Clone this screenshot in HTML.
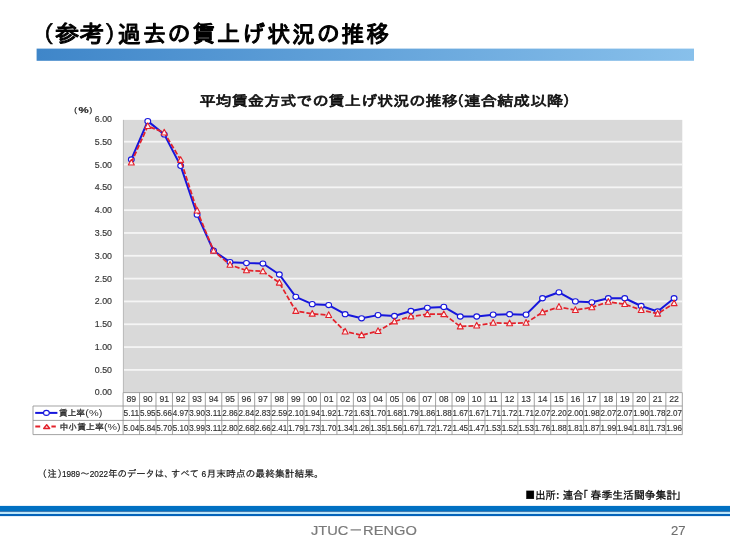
<!DOCTYPE html>
<html lang="ja"><head><meta charset="utf-8"><title>（参考）過去の賃上げ状況の推移</title>
<style>html,body{margin:0;padding:0;background:#fff}svg{display:block}</style></head><body>
<svg width="730" height="548" viewBox="0 0 730 548">
<defs><linearGradient id="hb" x1="0" y1="0" x2="1" y2="0"><stop offset="0" stop-color="#3f86c9"/><stop offset="1" stop-color="#88c0eb"/></linearGradient></defs>
<rect width="730" height="548" fill="#fff"/>
<rect x="36.6" y="48.6" width="657.4" height="12.2" fill="url(#hb)"/>
<text font-family='"IPAGothic","Noto Sans CJK JP",sans-serif' font-size="23" fill="#000" stroke="#000" stroke-width="1.1" stroke-linejoin="round">
<tspan x="31.2" y="41.8" stroke-width="0.7">（</tspan>
<tspan x="55.0" y="41.8" textLength="49.2" lengthAdjust="spacingAndGlyphs">参考</tspan>
<tspan x="104.6" y="41.8" stroke-width="0.7">）</tspan>
<tspan x="117.8" y="41.8" textLength="271.6" lengthAdjust="spacing">過去の賃上げ状況の推移</tspan>
</text>
<text font-family='"IPAGothic","Noto Sans CJK JP",sans-serif' font-size="14.2" fill="#111" stroke="#111" stroke-width="0.7" stroke-linejoin="round">
<tspan x="199.4" y="106.1" textLength="258.4" lengthAdjust="spacingAndGlyphs">平均賃金方式での賃上げ状況の推移</tspan>
<tspan x="449.8" y="106.1">（</tspan>
<tspan x="464.0" y="106.1" textLength="99.2" lengthAdjust="spacingAndGlyphs">連合結成以降</tspan>
<tspan x="563.0" y="106.1">）</tspan>
</text>
<text font-family='"Liberation Sans","IPAGothic","Noto Sans CJK JP",sans-serif' font-size="8" fill="#2a2a2a"><tspan x="74.2" y="112.0" stroke="#2a2a2a" stroke-width="0.25">(</tspan><tspan x="78.4" y="113.0" font-weight="bold" font-size="8.8" stroke="#2a2a2a" stroke-width="0.2" textLength="10.2" lengthAdjust="spacingAndGlyphs">%</tspan><tspan x="89.6" y="112.0" stroke="#2a2a2a" stroke-width="0.25">)</tspan></text>
<rect x="123.1" y="119.9" width="559.2" height="272.4" fill="#d9d9d9"/>
<rect x="123.1" y="368.98" width="559.2" height="1.8" fill="#f5f5f5"/>
<rect x="123.1" y="346.16" width="559.2" height="1.8" fill="#f5f5f5"/>
<rect x="123.1" y="323.34" width="559.2" height="1.8" fill="#f5f5f5"/>
<rect x="123.1" y="300.52" width="559.2" height="1.8" fill="#f5f5f5"/>
<rect x="123.1" y="277.70" width="559.2" height="1.8" fill="#f5f5f5"/>
<rect x="123.1" y="254.88" width="559.2" height="1.8" fill="#f5f5f5"/>
<rect x="123.1" y="232.06" width="559.2" height="1.8" fill="#f5f5f5"/>
<rect x="123.1" y="209.24" width="559.2" height="1.8" fill="#f5f5f5"/>
<rect x="123.1" y="186.42" width="559.2" height="1.8" fill="#f5f5f5"/>
<rect x="123.1" y="163.60" width="559.2" height="1.8" fill="#f5f5f5"/>
<rect x="123.1" y="140.78" width="559.2" height="1.8" fill="#f5f5f5"/>
<rect x="122.89999999999999" y="119.9" width="1.1" height="272.4" fill="#bdbdbd"/>
<text x="112.0" y="395.2" text-anchor="end" font-family='"Liberation Sans","IPAGothic","Noto Sans CJK JP",sans-serif' font-size="8.4" fill="#353535" stroke="#353535" stroke-width="0.15" textLength="17.2" lengthAdjust="spacingAndGlyphs">0.00</text>
<text x="112.0" y="372.9" text-anchor="end" font-family='"Liberation Sans","IPAGothic","Noto Sans CJK JP",sans-serif' font-size="8.4" fill="#353535" stroke="#353535" stroke-width="0.15" textLength="17.2" lengthAdjust="spacingAndGlyphs">0.50</text>
<text x="112.0" y="350.1" text-anchor="end" font-family='"Liberation Sans","IPAGothic","Noto Sans CJK JP",sans-serif' font-size="8.4" fill="#353535" stroke="#353535" stroke-width="0.15" textLength="17.2" lengthAdjust="spacingAndGlyphs">1.00</text>
<text x="112.0" y="327.2" text-anchor="end" font-family='"Liberation Sans","IPAGothic","Noto Sans CJK JP",sans-serif' font-size="8.4" fill="#353535" stroke="#353535" stroke-width="0.15" textLength="17.2" lengthAdjust="spacingAndGlyphs">1.50</text>
<text x="112.0" y="304.4" text-anchor="end" font-family='"Liberation Sans","IPAGothic","Noto Sans CJK JP",sans-serif' font-size="8.4" fill="#353535" stroke="#353535" stroke-width="0.15" textLength="17.2" lengthAdjust="spacingAndGlyphs">2.00</text>
<text x="112.0" y="281.6" text-anchor="end" font-family='"Liberation Sans","IPAGothic","Noto Sans CJK JP",sans-serif' font-size="8.4" fill="#353535" stroke="#353535" stroke-width="0.15" textLength="17.2" lengthAdjust="spacingAndGlyphs">2.50</text>
<text x="112.0" y="258.8" text-anchor="end" font-family='"Liberation Sans","IPAGothic","Noto Sans CJK JP",sans-serif' font-size="8.4" fill="#353535" stroke="#353535" stroke-width="0.15" textLength="17.2" lengthAdjust="spacingAndGlyphs">3.00</text>
<text x="112.0" y="236.0" text-anchor="end" font-family='"Liberation Sans","IPAGothic","Noto Sans CJK JP",sans-serif' font-size="8.4" fill="#353535" stroke="#353535" stroke-width="0.15" textLength="17.2" lengthAdjust="spacingAndGlyphs">3.50</text>
<text x="112.0" y="213.1" text-anchor="end" font-family='"Liberation Sans","IPAGothic","Noto Sans CJK JP",sans-serif' font-size="8.4" fill="#353535" stroke="#353535" stroke-width="0.15" textLength="17.2" lengthAdjust="spacingAndGlyphs">4.00</text>
<text x="112.0" y="190.3" text-anchor="end" font-family='"Liberation Sans","IPAGothic","Noto Sans CJK JP",sans-serif' font-size="8.4" fill="#353535" stroke="#353535" stroke-width="0.15" textLength="17.2" lengthAdjust="spacingAndGlyphs">4.50</text>
<text x="112.0" y="167.5" text-anchor="end" font-family='"Liberation Sans","IPAGothic","Noto Sans CJK JP",sans-serif' font-size="8.4" fill="#353535" stroke="#353535" stroke-width="0.15" textLength="17.2" lengthAdjust="spacingAndGlyphs">5.00</text>
<text x="112.0" y="144.7" text-anchor="end" font-family='"Liberation Sans","IPAGothic","Noto Sans CJK JP",sans-serif' font-size="8.4" fill="#353535" stroke="#353535" stroke-width="0.15" textLength="17.2" lengthAdjust="spacingAndGlyphs">5.50</text>
<text x="112.0" y="122.4" text-anchor="end" font-family='"Liberation Sans","IPAGothic","Noto Sans CJK JP",sans-serif' font-size="8.4" fill="#353535" stroke="#353535" stroke-width="0.15" textLength="17.2" lengthAdjust="spacingAndGlyphs">6.00</text>
<g stroke="#929292" stroke-width="0.85" fill="none">
<path d="M33.0 406.0H682.3M33.0 420.4H682.3M33.0 434.6H682.3M33.0 406.0V434.6M123.1 392.6H682.3"/>
<path d="M123.10 392.6V434.6M139.55 392.6V434.6M155.99 392.6V434.6M172.44 392.6V434.6M188.89 392.6V434.6M205.34 392.6V434.6M221.78 392.6V434.6M238.23 392.6V434.6M254.68 392.6V434.6M271.12 392.6V434.6M287.57 392.6V434.6M304.02 392.6V434.6M320.46 392.6V434.6M336.91 392.6V434.6M353.36 392.6V434.6M369.81 392.6V434.6M386.25 392.6V434.6M402.70 392.6V434.6M419.15 392.6V434.6M435.59 392.6V434.6M452.04 392.6V434.6M468.49 392.6V434.6M484.94 392.6V434.6M501.38 392.6V434.6M517.83 392.6V434.6M534.28 392.6V434.6M550.72 392.6V434.6M567.17 392.6V434.6M583.62 392.6V434.6M600.06 392.6V434.6M616.51 392.6V434.6M632.96 392.6V434.6M649.41 392.6V434.6M665.85 392.6V434.6M682.30 392.6V434.6"/>
</g>
<text x="131.32" y="402.3" text-anchor="middle" font-family='"Liberation Sans","IPAGothic","Noto Sans CJK JP",sans-serif' font-size="8.7" fill="#333" stroke="#333" stroke-width="0.15">89</text>
<text x="147.77" y="402.3" text-anchor="middle" font-family='"Liberation Sans","IPAGothic","Noto Sans CJK JP",sans-serif' font-size="8.7" fill="#333" stroke="#333" stroke-width="0.15">90</text>
<text x="164.22" y="402.3" text-anchor="middle" font-family='"Liberation Sans","IPAGothic","Noto Sans CJK JP",sans-serif' font-size="8.7" fill="#333" stroke="#333" stroke-width="0.15">91</text>
<text x="180.66" y="402.3" text-anchor="middle" font-family='"Liberation Sans","IPAGothic","Noto Sans CJK JP",sans-serif' font-size="8.7" fill="#333" stroke="#333" stroke-width="0.15">92</text>
<text x="197.11" y="402.3" text-anchor="middle" font-family='"Liberation Sans","IPAGothic","Noto Sans CJK JP",sans-serif' font-size="8.7" fill="#333" stroke="#333" stroke-width="0.15">93</text>
<text x="213.56" y="402.3" text-anchor="middle" font-family='"Liberation Sans","IPAGothic","Noto Sans CJK JP",sans-serif' font-size="8.7" fill="#333" stroke="#333" stroke-width="0.15">94</text>
<text x="230.01" y="402.3" text-anchor="middle" font-family='"Liberation Sans","IPAGothic","Noto Sans CJK JP",sans-serif' font-size="8.7" fill="#333" stroke="#333" stroke-width="0.15">95</text>
<text x="246.45" y="402.3" text-anchor="middle" font-family='"Liberation Sans","IPAGothic","Noto Sans CJK JP",sans-serif' font-size="8.7" fill="#333" stroke="#333" stroke-width="0.15">96</text>
<text x="262.90" y="402.3" text-anchor="middle" font-family='"Liberation Sans","IPAGothic","Noto Sans CJK JP",sans-serif' font-size="8.7" fill="#333" stroke="#333" stroke-width="0.15">97</text>
<text x="279.35" y="402.3" text-anchor="middle" font-family='"Liberation Sans","IPAGothic","Noto Sans CJK JP",sans-serif' font-size="8.7" fill="#333" stroke="#333" stroke-width="0.15">98</text>
<text x="295.79" y="402.3" text-anchor="middle" font-family='"Liberation Sans","IPAGothic","Noto Sans CJK JP",sans-serif' font-size="8.7" fill="#333" stroke="#333" stroke-width="0.15">99</text>
<text x="312.24" y="402.3" text-anchor="middle" font-family='"Liberation Sans","IPAGothic","Noto Sans CJK JP",sans-serif' font-size="8.7" fill="#333" stroke="#333" stroke-width="0.15">00</text>
<text x="328.69" y="402.3" text-anchor="middle" font-family='"Liberation Sans","IPAGothic","Noto Sans CJK JP",sans-serif' font-size="8.7" fill="#333" stroke="#333" stroke-width="0.15">01</text>
<text x="345.14" y="402.3" text-anchor="middle" font-family='"Liberation Sans","IPAGothic","Noto Sans CJK JP",sans-serif' font-size="8.7" fill="#333" stroke="#333" stroke-width="0.15">02</text>
<text x="361.58" y="402.3" text-anchor="middle" font-family='"Liberation Sans","IPAGothic","Noto Sans CJK JP",sans-serif' font-size="8.7" fill="#333" stroke="#333" stroke-width="0.15">03</text>
<text x="378.03" y="402.3" text-anchor="middle" font-family='"Liberation Sans","IPAGothic","Noto Sans CJK JP",sans-serif' font-size="8.7" fill="#333" stroke="#333" stroke-width="0.15">04</text>
<text x="394.48" y="402.3" text-anchor="middle" font-family='"Liberation Sans","IPAGothic","Noto Sans CJK JP",sans-serif' font-size="8.7" fill="#333" stroke="#333" stroke-width="0.15">05</text>
<text x="410.92" y="402.3" text-anchor="middle" font-family='"Liberation Sans","IPAGothic","Noto Sans CJK JP",sans-serif' font-size="8.7" fill="#333" stroke="#333" stroke-width="0.15">06</text>
<text x="427.37" y="402.3" text-anchor="middle" font-family='"Liberation Sans","IPAGothic","Noto Sans CJK JP",sans-serif' font-size="8.7" fill="#333" stroke="#333" stroke-width="0.15">07</text>
<text x="443.82" y="402.3" text-anchor="middle" font-family='"Liberation Sans","IPAGothic","Noto Sans CJK JP",sans-serif' font-size="8.7" fill="#333" stroke="#333" stroke-width="0.15">08</text>
<text x="460.26" y="402.3" text-anchor="middle" font-family='"Liberation Sans","IPAGothic","Noto Sans CJK JP",sans-serif' font-size="8.7" fill="#333" stroke="#333" stroke-width="0.15">09</text>
<text x="476.71" y="402.3" text-anchor="middle" font-family='"Liberation Sans","IPAGothic","Noto Sans CJK JP",sans-serif' font-size="8.7" fill="#333" stroke="#333" stroke-width="0.15">10</text>
<text x="493.16" y="402.3" text-anchor="middle" font-family='"Liberation Sans","IPAGothic","Noto Sans CJK JP",sans-serif' font-size="8.7" fill="#333" stroke="#333" stroke-width="0.15">11</text>
<text x="509.61" y="402.3" text-anchor="middle" font-family='"Liberation Sans","IPAGothic","Noto Sans CJK JP",sans-serif' font-size="8.7" fill="#333" stroke="#333" stroke-width="0.15">12</text>
<text x="526.05" y="402.3" text-anchor="middle" font-family='"Liberation Sans","IPAGothic","Noto Sans CJK JP",sans-serif' font-size="8.7" fill="#333" stroke="#333" stroke-width="0.15">13</text>
<text x="542.50" y="402.3" text-anchor="middle" font-family='"Liberation Sans","IPAGothic","Noto Sans CJK JP",sans-serif' font-size="8.7" fill="#333" stroke="#333" stroke-width="0.15">14</text>
<text x="558.95" y="402.3" text-anchor="middle" font-family='"Liberation Sans","IPAGothic","Noto Sans CJK JP",sans-serif' font-size="8.7" fill="#333" stroke="#333" stroke-width="0.15">15</text>
<text x="575.39" y="402.3" text-anchor="middle" font-family='"Liberation Sans","IPAGothic","Noto Sans CJK JP",sans-serif' font-size="8.7" fill="#333" stroke="#333" stroke-width="0.15">16</text>
<text x="591.84" y="402.3" text-anchor="middle" font-family='"Liberation Sans","IPAGothic","Noto Sans CJK JP",sans-serif' font-size="8.7" fill="#333" stroke="#333" stroke-width="0.15">17</text>
<text x="608.29" y="402.3" text-anchor="middle" font-family='"Liberation Sans","IPAGothic","Noto Sans CJK JP",sans-serif' font-size="8.7" fill="#333" stroke="#333" stroke-width="0.15">18</text>
<text x="624.74" y="402.3" text-anchor="middle" font-family='"Liberation Sans","IPAGothic","Noto Sans CJK JP",sans-serif' font-size="8.7" fill="#333" stroke="#333" stroke-width="0.15">19</text>
<text x="641.18" y="402.3" text-anchor="middle" font-family='"Liberation Sans","IPAGothic","Noto Sans CJK JP",sans-serif' font-size="8.7" fill="#333" stroke="#333" stroke-width="0.15">20</text>
<text x="657.63" y="402.3" text-anchor="middle" font-family='"Liberation Sans","IPAGothic","Noto Sans CJK JP",sans-serif' font-size="8.7" fill="#333" stroke="#333" stroke-width="0.15">21</text>
<text x="674.08" y="402.3" text-anchor="middle" font-family='"Liberation Sans","IPAGothic","Noto Sans CJK JP",sans-serif' font-size="8.7" fill="#333" stroke="#333" stroke-width="0.15">22</text>
<text x="131.32" y="416.3" text-anchor="middle" font-family='"Liberation Sans","IPAGothic","Noto Sans CJK JP",sans-serif' font-size="8.7" fill="#333" stroke="#333" stroke-width="0.15" textLength="15.7" lengthAdjust="spacingAndGlyphs">5.11</text>
<text x="131.32" y="430.7" text-anchor="middle" font-family='"Liberation Sans","IPAGothic","Noto Sans CJK JP",sans-serif' font-size="8.7" fill="#333" stroke="#333" stroke-width="0.15" textLength="15.7" lengthAdjust="spacingAndGlyphs">5.04</text>
<text x="147.77" y="416.3" text-anchor="middle" font-family='"Liberation Sans","IPAGothic","Noto Sans CJK JP",sans-serif' font-size="8.7" fill="#333" stroke="#333" stroke-width="0.15" textLength="15.7" lengthAdjust="spacingAndGlyphs">5.95</text>
<text x="147.77" y="430.7" text-anchor="middle" font-family='"Liberation Sans","IPAGothic","Noto Sans CJK JP",sans-serif' font-size="8.7" fill="#333" stroke="#333" stroke-width="0.15" textLength="15.7" lengthAdjust="spacingAndGlyphs">5.84</text>
<text x="164.22" y="416.3" text-anchor="middle" font-family='"Liberation Sans","IPAGothic","Noto Sans CJK JP",sans-serif' font-size="8.7" fill="#333" stroke="#333" stroke-width="0.15" textLength="15.7" lengthAdjust="spacingAndGlyphs">5.66</text>
<text x="164.22" y="430.7" text-anchor="middle" font-family='"Liberation Sans","IPAGothic","Noto Sans CJK JP",sans-serif' font-size="8.7" fill="#333" stroke="#333" stroke-width="0.15" textLength="15.7" lengthAdjust="spacingAndGlyphs">5.70</text>
<text x="180.66" y="416.3" text-anchor="middle" font-family='"Liberation Sans","IPAGothic","Noto Sans CJK JP",sans-serif' font-size="8.7" fill="#333" stroke="#333" stroke-width="0.15" textLength="15.7" lengthAdjust="spacingAndGlyphs">4.97</text>
<text x="180.66" y="430.7" text-anchor="middle" font-family='"Liberation Sans","IPAGothic","Noto Sans CJK JP",sans-serif' font-size="8.7" fill="#333" stroke="#333" stroke-width="0.15" textLength="15.7" lengthAdjust="spacingAndGlyphs">5.10</text>
<text x="197.11" y="416.3" text-anchor="middle" font-family='"Liberation Sans","IPAGothic","Noto Sans CJK JP",sans-serif' font-size="8.7" fill="#333" stroke="#333" stroke-width="0.15" textLength="15.7" lengthAdjust="spacingAndGlyphs">3.90</text>
<text x="197.11" y="430.7" text-anchor="middle" font-family='"Liberation Sans","IPAGothic","Noto Sans CJK JP",sans-serif' font-size="8.7" fill="#333" stroke="#333" stroke-width="0.15" textLength="15.7" lengthAdjust="spacingAndGlyphs">3.99</text>
<text x="213.56" y="416.3" text-anchor="middle" font-family='"Liberation Sans","IPAGothic","Noto Sans CJK JP",sans-serif' font-size="8.7" fill="#333" stroke="#333" stroke-width="0.15" textLength="15.7" lengthAdjust="spacingAndGlyphs">3.11</text>
<text x="213.56" y="430.7" text-anchor="middle" font-family='"Liberation Sans","IPAGothic","Noto Sans CJK JP",sans-serif' font-size="8.7" fill="#333" stroke="#333" stroke-width="0.15" textLength="15.7" lengthAdjust="spacingAndGlyphs">3.11</text>
<text x="230.01" y="416.3" text-anchor="middle" font-family='"Liberation Sans","IPAGothic","Noto Sans CJK JP",sans-serif' font-size="8.7" fill="#333" stroke="#333" stroke-width="0.15" textLength="15.7" lengthAdjust="spacingAndGlyphs">2.86</text>
<text x="230.01" y="430.7" text-anchor="middle" font-family='"Liberation Sans","IPAGothic","Noto Sans CJK JP",sans-serif' font-size="8.7" fill="#333" stroke="#333" stroke-width="0.15" textLength="15.7" lengthAdjust="spacingAndGlyphs">2.80</text>
<text x="246.45" y="416.3" text-anchor="middle" font-family='"Liberation Sans","IPAGothic","Noto Sans CJK JP",sans-serif' font-size="8.7" fill="#333" stroke="#333" stroke-width="0.15" textLength="15.7" lengthAdjust="spacingAndGlyphs">2.84</text>
<text x="246.45" y="430.7" text-anchor="middle" font-family='"Liberation Sans","IPAGothic","Noto Sans CJK JP",sans-serif' font-size="8.7" fill="#333" stroke="#333" stroke-width="0.15" textLength="15.7" lengthAdjust="spacingAndGlyphs">2.68</text>
<text x="262.90" y="416.3" text-anchor="middle" font-family='"Liberation Sans","IPAGothic","Noto Sans CJK JP",sans-serif' font-size="8.7" fill="#333" stroke="#333" stroke-width="0.15" textLength="15.7" lengthAdjust="spacingAndGlyphs">2.83</text>
<text x="262.90" y="430.7" text-anchor="middle" font-family='"Liberation Sans","IPAGothic","Noto Sans CJK JP",sans-serif' font-size="8.7" fill="#333" stroke="#333" stroke-width="0.15" textLength="15.7" lengthAdjust="spacingAndGlyphs">2.66</text>
<text x="279.35" y="416.3" text-anchor="middle" font-family='"Liberation Sans","IPAGothic","Noto Sans CJK JP",sans-serif' font-size="8.7" fill="#333" stroke="#333" stroke-width="0.15" textLength="15.7" lengthAdjust="spacingAndGlyphs">2.59</text>
<text x="279.35" y="430.7" text-anchor="middle" font-family='"Liberation Sans","IPAGothic","Noto Sans CJK JP",sans-serif' font-size="8.7" fill="#333" stroke="#333" stroke-width="0.15" textLength="15.7" lengthAdjust="spacingAndGlyphs">2.41</text>
<text x="295.79" y="416.3" text-anchor="middle" font-family='"Liberation Sans","IPAGothic","Noto Sans CJK JP",sans-serif' font-size="8.7" fill="#333" stroke="#333" stroke-width="0.15" textLength="15.7" lengthAdjust="spacingAndGlyphs">2.10</text>
<text x="295.79" y="430.7" text-anchor="middle" font-family='"Liberation Sans","IPAGothic","Noto Sans CJK JP",sans-serif' font-size="8.7" fill="#333" stroke="#333" stroke-width="0.15" textLength="15.7" lengthAdjust="spacingAndGlyphs">1.79</text>
<text x="312.24" y="416.3" text-anchor="middle" font-family='"Liberation Sans","IPAGothic","Noto Sans CJK JP",sans-serif' font-size="8.7" fill="#333" stroke="#333" stroke-width="0.15" textLength="15.7" lengthAdjust="spacingAndGlyphs">1.94</text>
<text x="312.24" y="430.7" text-anchor="middle" font-family='"Liberation Sans","IPAGothic","Noto Sans CJK JP",sans-serif' font-size="8.7" fill="#333" stroke="#333" stroke-width="0.15" textLength="15.7" lengthAdjust="spacingAndGlyphs">1.73</text>
<text x="328.69" y="416.3" text-anchor="middle" font-family='"Liberation Sans","IPAGothic","Noto Sans CJK JP",sans-serif' font-size="8.7" fill="#333" stroke="#333" stroke-width="0.15" textLength="15.7" lengthAdjust="spacingAndGlyphs">1.92</text>
<text x="328.69" y="430.7" text-anchor="middle" font-family='"Liberation Sans","IPAGothic","Noto Sans CJK JP",sans-serif' font-size="8.7" fill="#333" stroke="#333" stroke-width="0.15" textLength="15.7" lengthAdjust="spacingAndGlyphs">1.70</text>
<text x="345.14" y="416.3" text-anchor="middle" font-family='"Liberation Sans","IPAGothic","Noto Sans CJK JP",sans-serif' font-size="8.7" fill="#333" stroke="#333" stroke-width="0.15" textLength="15.7" lengthAdjust="spacingAndGlyphs">1.72</text>
<text x="345.14" y="430.7" text-anchor="middle" font-family='"Liberation Sans","IPAGothic","Noto Sans CJK JP",sans-serif' font-size="8.7" fill="#333" stroke="#333" stroke-width="0.15" textLength="15.7" lengthAdjust="spacingAndGlyphs">1.34</text>
<text x="361.58" y="416.3" text-anchor="middle" font-family='"Liberation Sans","IPAGothic","Noto Sans CJK JP",sans-serif' font-size="8.7" fill="#333" stroke="#333" stroke-width="0.15" textLength="15.7" lengthAdjust="spacingAndGlyphs">1.63</text>
<text x="361.58" y="430.7" text-anchor="middle" font-family='"Liberation Sans","IPAGothic","Noto Sans CJK JP",sans-serif' font-size="8.7" fill="#333" stroke="#333" stroke-width="0.15" textLength="15.7" lengthAdjust="spacingAndGlyphs">1.26</text>
<text x="378.03" y="416.3" text-anchor="middle" font-family='"Liberation Sans","IPAGothic","Noto Sans CJK JP",sans-serif' font-size="8.7" fill="#333" stroke="#333" stroke-width="0.15" textLength="15.7" lengthAdjust="spacingAndGlyphs">1.70</text>
<text x="378.03" y="430.7" text-anchor="middle" font-family='"Liberation Sans","IPAGothic","Noto Sans CJK JP",sans-serif' font-size="8.7" fill="#333" stroke="#333" stroke-width="0.15" textLength="15.7" lengthAdjust="spacingAndGlyphs">1.35</text>
<text x="394.48" y="416.3" text-anchor="middle" font-family='"Liberation Sans","IPAGothic","Noto Sans CJK JP",sans-serif' font-size="8.7" fill="#333" stroke="#333" stroke-width="0.15" textLength="15.7" lengthAdjust="spacingAndGlyphs">1.68</text>
<text x="394.48" y="430.7" text-anchor="middle" font-family='"Liberation Sans","IPAGothic","Noto Sans CJK JP",sans-serif' font-size="8.7" fill="#333" stroke="#333" stroke-width="0.15" textLength="15.7" lengthAdjust="spacingAndGlyphs">1.56</text>
<text x="410.92" y="416.3" text-anchor="middle" font-family='"Liberation Sans","IPAGothic","Noto Sans CJK JP",sans-serif' font-size="8.7" fill="#333" stroke="#333" stroke-width="0.15" textLength="15.7" lengthAdjust="spacingAndGlyphs">1.79</text>
<text x="410.92" y="430.7" text-anchor="middle" font-family='"Liberation Sans","IPAGothic","Noto Sans CJK JP",sans-serif' font-size="8.7" fill="#333" stroke="#333" stroke-width="0.15" textLength="15.7" lengthAdjust="spacingAndGlyphs">1.67</text>
<text x="427.37" y="416.3" text-anchor="middle" font-family='"Liberation Sans","IPAGothic","Noto Sans CJK JP",sans-serif' font-size="8.7" fill="#333" stroke="#333" stroke-width="0.15" textLength="15.7" lengthAdjust="spacingAndGlyphs">1.86</text>
<text x="427.37" y="430.7" text-anchor="middle" font-family='"Liberation Sans","IPAGothic","Noto Sans CJK JP",sans-serif' font-size="8.7" fill="#333" stroke="#333" stroke-width="0.15" textLength="15.7" lengthAdjust="spacingAndGlyphs">1.72</text>
<text x="443.82" y="416.3" text-anchor="middle" font-family='"Liberation Sans","IPAGothic","Noto Sans CJK JP",sans-serif' font-size="8.7" fill="#333" stroke="#333" stroke-width="0.15" textLength="15.7" lengthAdjust="spacingAndGlyphs">1.88</text>
<text x="443.82" y="430.7" text-anchor="middle" font-family='"Liberation Sans","IPAGothic","Noto Sans CJK JP",sans-serif' font-size="8.7" fill="#333" stroke="#333" stroke-width="0.15" textLength="15.7" lengthAdjust="spacingAndGlyphs">1.72</text>
<text x="460.26" y="416.3" text-anchor="middle" font-family='"Liberation Sans","IPAGothic","Noto Sans CJK JP",sans-serif' font-size="8.7" fill="#333" stroke="#333" stroke-width="0.15" textLength="15.7" lengthAdjust="spacingAndGlyphs">1.67</text>
<text x="460.26" y="430.7" text-anchor="middle" font-family='"Liberation Sans","IPAGothic","Noto Sans CJK JP",sans-serif' font-size="8.7" fill="#333" stroke="#333" stroke-width="0.15" textLength="15.7" lengthAdjust="spacingAndGlyphs">1.45</text>
<text x="476.71" y="416.3" text-anchor="middle" font-family='"Liberation Sans","IPAGothic","Noto Sans CJK JP",sans-serif' font-size="8.7" fill="#333" stroke="#333" stroke-width="0.15" textLength="15.7" lengthAdjust="spacingAndGlyphs">1.67</text>
<text x="476.71" y="430.7" text-anchor="middle" font-family='"Liberation Sans","IPAGothic","Noto Sans CJK JP",sans-serif' font-size="8.7" fill="#333" stroke="#333" stroke-width="0.15" textLength="15.7" lengthAdjust="spacingAndGlyphs">1.47</text>
<text x="493.16" y="416.3" text-anchor="middle" font-family='"Liberation Sans","IPAGothic","Noto Sans CJK JP",sans-serif' font-size="8.7" fill="#333" stroke="#333" stroke-width="0.15" textLength="15.7" lengthAdjust="spacingAndGlyphs">1.71</text>
<text x="493.16" y="430.7" text-anchor="middle" font-family='"Liberation Sans","IPAGothic","Noto Sans CJK JP",sans-serif' font-size="8.7" fill="#333" stroke="#333" stroke-width="0.15" textLength="15.7" lengthAdjust="spacingAndGlyphs">1.53</text>
<text x="509.61" y="416.3" text-anchor="middle" font-family='"Liberation Sans","IPAGothic","Noto Sans CJK JP",sans-serif' font-size="8.7" fill="#333" stroke="#333" stroke-width="0.15" textLength="15.7" lengthAdjust="spacingAndGlyphs">1.72</text>
<text x="509.61" y="430.7" text-anchor="middle" font-family='"Liberation Sans","IPAGothic","Noto Sans CJK JP",sans-serif' font-size="8.7" fill="#333" stroke="#333" stroke-width="0.15" textLength="15.7" lengthAdjust="spacingAndGlyphs">1.52</text>
<text x="526.05" y="416.3" text-anchor="middle" font-family='"Liberation Sans","IPAGothic","Noto Sans CJK JP",sans-serif' font-size="8.7" fill="#333" stroke="#333" stroke-width="0.15" textLength="15.7" lengthAdjust="spacingAndGlyphs">1.71</text>
<text x="526.05" y="430.7" text-anchor="middle" font-family='"Liberation Sans","IPAGothic","Noto Sans CJK JP",sans-serif' font-size="8.7" fill="#333" stroke="#333" stroke-width="0.15" textLength="15.7" lengthAdjust="spacingAndGlyphs">1.53</text>
<text x="542.50" y="416.3" text-anchor="middle" font-family='"Liberation Sans","IPAGothic","Noto Sans CJK JP",sans-serif' font-size="8.7" fill="#333" stroke="#333" stroke-width="0.15" textLength="15.7" lengthAdjust="spacingAndGlyphs">2.07</text>
<text x="542.50" y="430.7" text-anchor="middle" font-family='"Liberation Sans","IPAGothic","Noto Sans CJK JP",sans-serif' font-size="8.7" fill="#333" stroke="#333" stroke-width="0.15" textLength="15.7" lengthAdjust="spacingAndGlyphs">1.76</text>
<text x="558.95" y="416.3" text-anchor="middle" font-family='"Liberation Sans","IPAGothic","Noto Sans CJK JP",sans-serif' font-size="8.7" fill="#333" stroke="#333" stroke-width="0.15" textLength="15.7" lengthAdjust="spacingAndGlyphs">2.20</text>
<text x="558.95" y="430.7" text-anchor="middle" font-family='"Liberation Sans","IPAGothic","Noto Sans CJK JP",sans-serif' font-size="8.7" fill="#333" stroke="#333" stroke-width="0.15" textLength="15.7" lengthAdjust="spacingAndGlyphs">1.88</text>
<text x="575.39" y="416.3" text-anchor="middle" font-family='"Liberation Sans","IPAGothic","Noto Sans CJK JP",sans-serif' font-size="8.7" fill="#333" stroke="#333" stroke-width="0.15" textLength="15.7" lengthAdjust="spacingAndGlyphs">2.00</text>
<text x="575.39" y="430.7" text-anchor="middle" font-family='"Liberation Sans","IPAGothic","Noto Sans CJK JP",sans-serif' font-size="8.7" fill="#333" stroke="#333" stroke-width="0.15" textLength="15.7" lengthAdjust="spacingAndGlyphs">1.81</text>
<text x="591.84" y="416.3" text-anchor="middle" font-family='"Liberation Sans","IPAGothic","Noto Sans CJK JP",sans-serif' font-size="8.7" fill="#333" stroke="#333" stroke-width="0.15" textLength="15.7" lengthAdjust="spacingAndGlyphs">1.98</text>
<text x="591.84" y="430.7" text-anchor="middle" font-family='"Liberation Sans","IPAGothic","Noto Sans CJK JP",sans-serif' font-size="8.7" fill="#333" stroke="#333" stroke-width="0.15" textLength="15.7" lengthAdjust="spacingAndGlyphs">1.87</text>
<text x="608.29" y="416.3" text-anchor="middle" font-family='"Liberation Sans","IPAGothic","Noto Sans CJK JP",sans-serif' font-size="8.7" fill="#333" stroke="#333" stroke-width="0.15" textLength="15.7" lengthAdjust="spacingAndGlyphs">2.07</text>
<text x="608.29" y="430.7" text-anchor="middle" font-family='"Liberation Sans","IPAGothic","Noto Sans CJK JP",sans-serif' font-size="8.7" fill="#333" stroke="#333" stroke-width="0.15" textLength="15.7" lengthAdjust="spacingAndGlyphs">1.99</text>
<text x="624.74" y="416.3" text-anchor="middle" font-family='"Liberation Sans","IPAGothic","Noto Sans CJK JP",sans-serif' font-size="8.7" fill="#333" stroke="#333" stroke-width="0.15" textLength="15.7" lengthAdjust="spacingAndGlyphs">2.07</text>
<text x="624.74" y="430.7" text-anchor="middle" font-family='"Liberation Sans","IPAGothic","Noto Sans CJK JP",sans-serif' font-size="8.7" fill="#333" stroke="#333" stroke-width="0.15" textLength="15.7" lengthAdjust="spacingAndGlyphs">1.94</text>
<text x="641.18" y="416.3" text-anchor="middle" font-family='"Liberation Sans","IPAGothic","Noto Sans CJK JP",sans-serif' font-size="8.7" fill="#333" stroke="#333" stroke-width="0.15" textLength="15.7" lengthAdjust="spacingAndGlyphs">1.90</text>
<text x="641.18" y="430.7" text-anchor="middle" font-family='"Liberation Sans","IPAGothic","Noto Sans CJK JP",sans-serif' font-size="8.7" fill="#333" stroke="#333" stroke-width="0.15" textLength="15.7" lengthAdjust="spacingAndGlyphs">1.81</text>
<text x="657.63" y="416.3" text-anchor="middle" font-family='"Liberation Sans","IPAGothic","Noto Sans CJK JP",sans-serif' font-size="8.7" fill="#333" stroke="#333" stroke-width="0.15" textLength="15.7" lengthAdjust="spacingAndGlyphs">1.78</text>
<text x="657.63" y="430.7" text-anchor="middle" font-family='"Liberation Sans","IPAGothic","Noto Sans CJK JP",sans-serif' font-size="8.7" fill="#333" stroke="#333" stroke-width="0.15" textLength="15.7" lengthAdjust="spacingAndGlyphs">1.73</text>
<text x="674.08" y="416.3" text-anchor="middle" font-family='"Liberation Sans","IPAGothic","Noto Sans CJK JP",sans-serif' font-size="8.7" fill="#333" stroke="#333" stroke-width="0.15" textLength="15.7" lengthAdjust="spacingAndGlyphs">2.07</text>
<text x="674.08" y="430.7" text-anchor="middle" font-family='"Liberation Sans","IPAGothic","Noto Sans CJK JP",sans-serif' font-size="8.7" fill="#333" stroke="#333" stroke-width="0.15" textLength="15.7" lengthAdjust="spacingAndGlyphs">1.96</text>
<path d="M35.2 412.9H57.4" stroke="#1616dc" stroke-width="2"/>
<ellipse cx="46.4" cy="412.9" rx="2.9" ry="2.5" fill="#fff" stroke="#1616dc" stroke-width="1.1"/>
<path d="M35.3 426.5H40.2M51.4 426.5H55.8" stroke="#e3222b" stroke-width="2.1"/>
<path d="M46.7 424.7L49.7 428.5H43.7Z" fill="#fdf1f1" stroke="#e3222b" stroke-width="1.4" stroke-linejoin="round"/>
<text font-family='"Liberation Sans","IPAGothic","Noto Sans CJK JP",sans-serif' font-size="8.6" fill="#303030">
<tspan x="59" y="416.3" stroke="#303030" stroke-width="0.3" textLength="26" lengthAdjust="spacingAndGlyphs">賃上率</tspan><tspan x="85.3" y="416.3" textLength="17" lengthAdjust="spacingAndGlyphs">(%)</tspan>
<tspan x="59.5" y="430.2" stroke="#303030" stroke-width="0.3" textLength="44.3" lengthAdjust="spacingAndGlyphs">中小賃上率</tspan><tspan x="104" y="430.2" textLength="16.6" lengthAdjust="spacingAndGlyphs">(%)</tspan>
</text>
<polyline points="131.32,159.48 147.77,121.14 164.22,134.38 180.66,165.87 197.11,214.70 213.56,250.76 230.01,262.17 246.45,263.08 262.90,263.54 279.35,274.49 295.79,296.86 312.24,304.16 328.69,305.07 345.14,314.20 361.58,318.31 378.03,315.11 394.48,316.02 410.92,311.00 427.37,307.81 443.82,306.90 460.26,316.48 476.71,316.48 493.16,314.66 509.61,314.20 526.05,314.66 542.50,298.23 558.95,292.29 575.39,301.42 591.84,302.33 608.29,298.23 624.74,298.23 641.18,305.98 657.63,311.46 674.08,298.23" fill="none" stroke="#1616dc" stroke-width="2" stroke-linejoin="round"/>
<ellipse cx="131.32" cy="159.48" rx="2.9" ry="2.6" fill="#fff" stroke="#1616dc" stroke-width="1.1"/>
<ellipse cx="147.77" cy="121.14" rx="2.9" ry="2.6" fill="#fff" stroke="#1616dc" stroke-width="1.1"/>
<ellipse cx="164.22" cy="134.38" rx="2.9" ry="2.6" fill="#fff" stroke="#1616dc" stroke-width="1.1"/>
<ellipse cx="180.66" cy="165.87" rx="2.9" ry="2.6" fill="#fff" stroke="#1616dc" stroke-width="1.1"/>
<ellipse cx="197.11" cy="214.70" rx="2.9" ry="2.6" fill="#fff" stroke="#1616dc" stroke-width="1.1"/>
<ellipse cx="213.56" cy="250.76" rx="2.9" ry="2.6" fill="#fff" stroke="#1616dc" stroke-width="1.1"/>
<ellipse cx="230.01" cy="262.17" rx="2.9" ry="2.6" fill="#fff" stroke="#1616dc" stroke-width="1.1"/>
<ellipse cx="246.45" cy="263.08" rx="2.9" ry="2.6" fill="#fff" stroke="#1616dc" stroke-width="1.1"/>
<ellipse cx="262.90" cy="263.54" rx="2.9" ry="2.6" fill="#fff" stroke="#1616dc" stroke-width="1.1"/>
<ellipse cx="279.35" cy="274.49" rx="2.9" ry="2.6" fill="#fff" stroke="#1616dc" stroke-width="1.1"/>
<ellipse cx="295.79" cy="296.86" rx="2.9" ry="2.6" fill="#fff" stroke="#1616dc" stroke-width="1.1"/>
<ellipse cx="312.24" cy="304.16" rx="2.9" ry="2.6" fill="#fff" stroke="#1616dc" stroke-width="1.1"/>
<ellipse cx="328.69" cy="305.07" rx="2.9" ry="2.6" fill="#fff" stroke="#1616dc" stroke-width="1.1"/>
<ellipse cx="345.14" cy="314.20" rx="2.9" ry="2.6" fill="#fff" stroke="#1616dc" stroke-width="1.1"/>
<ellipse cx="361.58" cy="318.31" rx="2.9" ry="2.6" fill="#fff" stroke="#1616dc" stroke-width="1.1"/>
<ellipse cx="378.03" cy="315.11" rx="2.9" ry="2.6" fill="#fff" stroke="#1616dc" stroke-width="1.1"/>
<ellipse cx="394.48" cy="316.02" rx="2.9" ry="2.6" fill="#fff" stroke="#1616dc" stroke-width="1.1"/>
<ellipse cx="410.92" cy="311.00" rx="2.9" ry="2.6" fill="#fff" stroke="#1616dc" stroke-width="1.1"/>
<ellipse cx="427.37" cy="307.81" rx="2.9" ry="2.6" fill="#fff" stroke="#1616dc" stroke-width="1.1"/>
<ellipse cx="443.82" cy="306.90" rx="2.9" ry="2.6" fill="#fff" stroke="#1616dc" stroke-width="1.1"/>
<ellipse cx="460.26" cy="316.48" rx="2.9" ry="2.6" fill="#fff" stroke="#1616dc" stroke-width="1.1"/>
<ellipse cx="476.71" cy="316.48" rx="2.9" ry="2.6" fill="#fff" stroke="#1616dc" stroke-width="1.1"/>
<ellipse cx="493.16" cy="314.66" rx="2.9" ry="2.6" fill="#fff" stroke="#1616dc" stroke-width="1.1"/>
<ellipse cx="509.61" cy="314.20" rx="2.9" ry="2.6" fill="#fff" stroke="#1616dc" stroke-width="1.1"/>
<ellipse cx="526.05" cy="314.66" rx="2.9" ry="2.6" fill="#fff" stroke="#1616dc" stroke-width="1.1"/>
<ellipse cx="542.50" cy="298.23" rx="2.9" ry="2.6" fill="#fff" stroke="#1616dc" stroke-width="1.1"/>
<ellipse cx="558.95" cy="292.29" rx="2.9" ry="2.6" fill="#fff" stroke="#1616dc" stroke-width="1.1"/>
<ellipse cx="575.39" cy="301.42" rx="2.9" ry="2.6" fill="#fff" stroke="#1616dc" stroke-width="1.1"/>
<ellipse cx="591.84" cy="302.33" rx="2.9" ry="2.6" fill="#fff" stroke="#1616dc" stroke-width="1.1"/>
<ellipse cx="608.29" cy="298.23" rx="2.9" ry="2.6" fill="#fff" stroke="#1616dc" stroke-width="1.1"/>
<ellipse cx="624.74" cy="298.23" rx="2.9" ry="2.6" fill="#fff" stroke="#1616dc" stroke-width="1.1"/>
<ellipse cx="641.18" cy="305.98" rx="2.9" ry="2.6" fill="#fff" stroke="#1616dc" stroke-width="1.1"/>
<ellipse cx="657.63" cy="311.46" rx="2.9" ry="2.6" fill="#fff" stroke="#1616dc" stroke-width="1.1"/>
<ellipse cx="674.08" cy="298.23" rx="2.9" ry="2.6" fill="#fff" stroke="#1616dc" stroke-width="1.1"/>
<polyline points="131.32,162.67 147.77,126.16 164.22,132.55 180.66,159.94 197.11,210.60 213.56,250.76 230.01,264.91 246.45,270.38 262.90,271.30 279.35,282.71 295.79,311.00 312.24,313.74 328.69,315.11 345.14,331.54 361.58,335.19 378.03,331.09 394.48,321.50 410.92,316.48 427.37,314.20 443.82,314.20 460.26,326.52 476.71,325.61 493.16,322.87 509.61,323.33 526.05,322.87 542.50,312.37 558.95,306.90 575.39,310.09 591.84,307.35 608.29,301.88 624.74,304.16 641.18,310.09 657.63,313.74 674.08,303.25" fill="none" stroke="#e3222b" stroke-width="1.75" stroke-dasharray="5 2.1" stroke-linejoin="round"/>
<path d="M131.32 159.37L134.32 165.07H128.32Z" fill="#fdf1f1" stroke="#e3222b" stroke-width="1.1" stroke-linejoin="round"/>
<path d="M147.77 122.86L150.77 128.56H144.77Z" fill="#fdf1f1" stroke="#e3222b" stroke-width="1.1" stroke-linejoin="round"/>
<path d="M164.22 129.25L167.22 134.95H161.22Z" fill="#fdf1f1" stroke="#e3222b" stroke-width="1.1" stroke-linejoin="round"/>
<path d="M180.66 156.64L183.66 162.34H177.66Z" fill="#fdf1f1" stroke="#e3222b" stroke-width="1.1" stroke-linejoin="round"/>
<path d="M197.11 207.30L200.11 213.00H194.11Z" fill="#fdf1f1" stroke="#e3222b" stroke-width="1.1" stroke-linejoin="round"/>
<path d="M213.56 247.46L216.56 253.16H210.56Z" fill="#fdf1f1" stroke="#e3222b" stroke-width="1.1" stroke-linejoin="round"/>
<path d="M230.01 261.61L233.01 267.31H227.01Z" fill="#fdf1f1" stroke="#e3222b" stroke-width="1.1" stroke-linejoin="round"/>
<path d="M246.45 267.08L249.45 272.78H243.45Z" fill="#fdf1f1" stroke="#e3222b" stroke-width="1.1" stroke-linejoin="round"/>
<path d="M262.90 268.00L265.90 273.70H259.90Z" fill="#fdf1f1" stroke="#e3222b" stroke-width="1.1" stroke-linejoin="round"/>
<path d="M279.35 279.41L282.35 285.11H276.35Z" fill="#fdf1f1" stroke="#e3222b" stroke-width="1.1" stroke-linejoin="round"/>
<path d="M295.79 307.70L298.79 313.40H292.79Z" fill="#fdf1f1" stroke="#e3222b" stroke-width="1.1" stroke-linejoin="round"/>
<path d="M312.24 310.44L315.24 316.14H309.24Z" fill="#fdf1f1" stroke="#e3222b" stroke-width="1.1" stroke-linejoin="round"/>
<path d="M328.69 311.81L331.69 317.51H325.69Z" fill="#fdf1f1" stroke="#e3222b" stroke-width="1.1" stroke-linejoin="round"/>
<path d="M345.14 328.24L348.14 333.94H342.14Z" fill="#fdf1f1" stroke="#e3222b" stroke-width="1.1" stroke-linejoin="round"/>
<path d="M361.58 331.89L364.58 337.59H358.58Z" fill="#fdf1f1" stroke="#e3222b" stroke-width="1.1" stroke-linejoin="round"/>
<path d="M378.03 327.79L381.03 333.49H375.03Z" fill="#fdf1f1" stroke="#e3222b" stroke-width="1.1" stroke-linejoin="round"/>
<path d="M394.48 318.20L397.48 323.90H391.48Z" fill="#fdf1f1" stroke="#e3222b" stroke-width="1.1" stroke-linejoin="round"/>
<path d="M410.92 313.18L413.92 318.88H407.92Z" fill="#fdf1f1" stroke="#e3222b" stroke-width="1.1" stroke-linejoin="round"/>
<path d="M427.37 310.90L430.37 316.60H424.37Z" fill="#fdf1f1" stroke="#e3222b" stroke-width="1.1" stroke-linejoin="round"/>
<path d="M443.82 310.90L446.82 316.60H440.82Z" fill="#fdf1f1" stroke="#e3222b" stroke-width="1.1" stroke-linejoin="round"/>
<path d="M460.26 323.22L463.26 328.92H457.26Z" fill="#fdf1f1" stroke="#e3222b" stroke-width="1.1" stroke-linejoin="round"/>
<path d="M476.71 322.31L479.71 328.01H473.71Z" fill="#fdf1f1" stroke="#e3222b" stroke-width="1.1" stroke-linejoin="round"/>
<path d="M493.16 319.57L496.16 325.27H490.16Z" fill="#fdf1f1" stroke="#e3222b" stroke-width="1.1" stroke-linejoin="round"/>
<path d="M509.61 320.03L512.61 325.73H506.61Z" fill="#fdf1f1" stroke="#e3222b" stroke-width="1.1" stroke-linejoin="round"/>
<path d="M526.05 319.57L529.05 325.27H523.05Z" fill="#fdf1f1" stroke="#e3222b" stroke-width="1.1" stroke-linejoin="round"/>
<path d="M542.50 309.07L545.50 314.77H539.50Z" fill="#fdf1f1" stroke="#e3222b" stroke-width="1.1" stroke-linejoin="round"/>
<path d="M558.95 303.60L561.95 309.30H555.95Z" fill="#fdf1f1" stroke="#e3222b" stroke-width="1.1" stroke-linejoin="round"/>
<path d="M575.39 306.79L578.39 312.49H572.39Z" fill="#fdf1f1" stroke="#e3222b" stroke-width="1.1" stroke-linejoin="round"/>
<path d="M591.84 304.05L594.84 309.75H588.84Z" fill="#fdf1f1" stroke="#e3222b" stroke-width="1.1" stroke-linejoin="round"/>
<path d="M608.29 298.58L611.29 304.28H605.29Z" fill="#fdf1f1" stroke="#e3222b" stroke-width="1.1" stroke-linejoin="round"/>
<path d="M624.74 300.86L627.74 306.56H621.74Z" fill="#fdf1f1" stroke="#e3222b" stroke-width="1.1" stroke-linejoin="round"/>
<path d="M641.18 306.79L644.18 312.49H638.18Z" fill="#fdf1f1" stroke="#e3222b" stroke-width="1.1" stroke-linejoin="round"/>
<path d="M657.63 310.44L660.63 316.14H654.63Z" fill="#fdf1f1" stroke="#e3222b" stroke-width="1.1" stroke-linejoin="round"/>
<path d="M674.08 299.95L677.08 305.65H671.08Z" fill="#fdf1f1" stroke="#e3222b" stroke-width="1.1" stroke-linejoin="round"/>
<text font-family='"IPAGothic","Noto Sans CJK JP",sans-serif' font-size="9.4" fill="#111" stroke="#111" stroke-width="0.15">
<tspan x="37.4" y="477.0">（</tspan>
<tspan x="47.6" y="477.0">注</tspan>
<tspan x="57.4" y="477.0">）</tspan>
<tspan x="61.9" y="477.0" textLength="18.2" lengthAdjust="spacingAndGlyphs" font-family="Liberation Sans,sans-serif" font-size="9.8">1989</tspan>
<tspan x="80.3" y="477.0" textLength="9.3" lengthAdjust="spacingAndGlyphs">～</tspan>
<tspan x="89.8" y="477.0" textLength="18.2" lengthAdjust="spacingAndGlyphs" font-family="Liberation Sans,sans-serif" font-size="9.8">2022</tspan>
<tspan x="108.25" y="477.0" textLength="65.25" lengthAdjust="spacingAndGlyphs">年のデータは、</tspan>
<tspan x="171.1" y="477.0" textLength="28" lengthAdjust="spacingAndGlyphs">すべて</tspan>
<tspan x="201.6" y="477.0" textLength="4.7" lengthAdjust="spacingAndGlyphs" font-family="Liberation Sans,sans-serif" font-size="9.8">6</tspan>
<tspan x="206.4" y="477.0" textLength="117.5" lengthAdjust="spacingAndGlyphs">月末時点の最終集計結果。</tspan>
</text>
<text font-family='"IPAGothic","Noto Sans CJK JP",sans-serif' font-size="10.9" fill="#000" stroke="#000" stroke-width="0.25">
<tspan x="525.0" y="499.4" textLength="30.8" lengthAdjust="spacingAndGlyphs">■出所</tspan>
<tspan x="552.3" y="499.4">：</tspan>
<tspan x="562.7" y="499.4" textLength="20.8" lengthAdjust="spacingAndGlyphs">連合</tspan>
<tspan x="577.4" y="499.4">「</tspan>
<tspan x="590.6" y="499.4" textLength="86.6" lengthAdjust="spacingAndGlyphs">春季生活闘争集計</tspan>
<tspan x="675.4" y="499.4">」</tspan>
</text>
<rect x="0" y="505.9" width="730" height="5.2" fill="#0070c2"/>
<rect x="0" y="511" width="730" height="0.9" fill="#1c60a2"/>
<rect x="0" y="511.9" width="730" height="2.1" fill="#bde6f9"/>
<rect x="0" y="514" width="730" height="2.1" fill="#0563b9"/>
<text x="311.0" y="534.6" font-family='"Liberation Sans","IPAGothic","Noto Sans CJK JP",sans-serif' font-size="13.3" fill="#7a7a7a" stroke="#7a7a7a" stroke-width="0.2" textLength="105.8" lengthAdjust="spacingAndGlyphs">JTUC－RENGO</text>
<text x="671.0" y="534.6" font-family='"Liberation Sans","IPAGothic","Noto Sans CJK JP",sans-serif' font-size="12.9" fill="#6e6e6e" stroke="#6e6e6e" stroke-width="0.15" textLength="14.6" lengthAdjust="spacingAndGlyphs">27</text>
</svg></body></html>
